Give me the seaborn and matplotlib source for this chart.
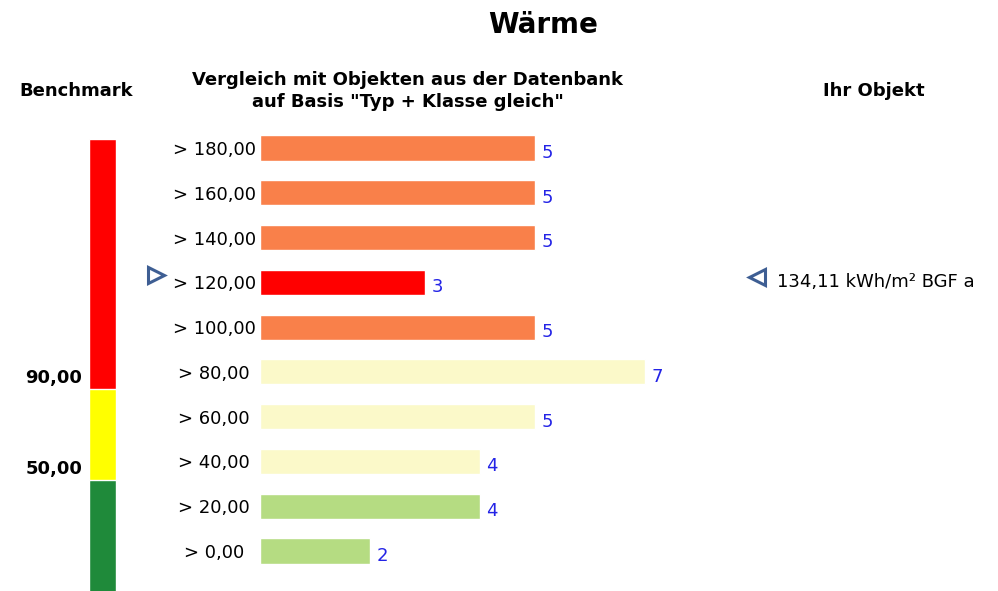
import matplotlib
matplotlib.use("Agg")
import matplotlib.pyplot as plt
import matplotlib.transforms as mtransforms
import seaborn as sns
import pandas as pd

# ---- data ----
categories = ["> 180,00", "> 160,00", "> 140,00", "> 120,00", "> 100,00",
              "> 80,00", "> 60,00", "> 40,00", "> 20,00", "> 0,00"]
counts = [5, 5, 5, 3, 5, 7, 5, 4, 4, 2]
bar_colors = ["#F9804A", "#F9804A", "#F9804A", "#FF0000", "#F9804A",
              "#FBF9C9", "#FBF9C9", "#FBF9C9", "#B5DC82", "#B5DC82"]
bench_thresholds = [200, 90, 50]          # tops of red, yellow, green segments
bench_colors = ["#FF0000", "#FFFF00", "#1F8A3A"]
bench_labels = ["90,00", "50,00"]
bench_label_values = [90, 50]
object_label = "134,11 kWh/m² BGF a"
object_row = 3

sns.set_style("white")
plt.rcParams["font.family"] = ["DejaVu Sans"]
plt.rcParams["text.color"] = "black"
plt.rcParams["ytick.color"] = "black"
plt.rcParams["ytick.labelcolor"] = "black"

fig = plt.figure(figsize=(9.98, 5.91), dpi=100)
W, H = 998, 591

# ---- main bar axes ----
row_h = 44.8
top_px = 148 - row_h / 2
bot_px = 551 + row_h / 2
ax = fig.add_axes([260 / W, 1 - bot_px / H, 440 / W, (bot_px - top_px) / H])
df = pd.DataFrame({"cat": categories, "count": counts})
sns.barplot(data=df, y="cat", x="count", hue="cat",
            palette=dict(zip(categories, bar_colors)), orient="h",
            width=0.56, saturation=1, legend=False, ax=ax)
ax.set_xlim(0, 8)
ax.set_ylim(len(categories) - 0.5, -0.5)
for s in ax.spines.values():
    s.set_visible(False)
ax.set_xticks([])
ax.set_xlabel("")
ax.set_ylabel("")
ax.tick_params(axis="y", length=0, pad=33, labelsize=13, labelcolor="black")
for lab in ax.get_yticklabels():
    lab.set_horizontalalignment("center")

for i, c in enumerate(counts):
    ax.annotate(str(c), xy=(c, i), xytext=(4.5, -3.5), textcoords="offset points",
                ha="left", va="center", fontsize=13, color="#2323E6")

# markers for the object value
tr = mtransforms.blended_transform_factory(ax.transAxes, ax.transData)
ax.plot([-0.236], [object_row - 0.16], marker=">", markersize=11,
        markerfacecolor="white", markeredgecolor="#3E5E93", markeredgewidth=2.2,
        transform=tr, clip_on=False, linestyle="none")
ax.plot([1.1295], [object_row - 0.13], marker="<", markersize=11,
        markerfacecolor="white", markeredgecolor="#3E5E93", markeredgewidth=2.2,
        transform=tr, clip_on=False, linestyle="none")
ax.text(1.175, object_row, object_label, transform=tr, ha="left", va="center",
        fontsize=13, color="black")

# ---- benchmark axes ----
bax = fig.add_axes([89 / W, 0, 27 / W, 1 - 139 / H])
for top, col in zip(bench_thresholds, bench_colors):
    sns.barplot(x=[0], y=[top], color=col, width=1, saturation=1, ax=bax)
bax.set_xlim(-0.5, 0.5)
bax.set_ylim(1.2, 200)
bax.axis("off")
btr = bax.get_yaxis_transform()
for lab, v in zip(bench_labels, bench_label_values):
    bax.annotate(lab, xy=(0, v), xycoords=btr, xytext=(-5, 8),
                 textcoords="offset points", ha="right", va="center",
                 fontsize=13, fontweight="bold", color="black")

# ---- titles ----
fig.text(543 / W, 1 - 25 / H, "Wärme", ha="center", va="center",
         fontsize=20, fontweight="bold", color="black")
fig.text(76 / W, 1 - 91 / H, "Benchmark", ha="center", va="center",
         fontsize=13, fontweight="bold", color="black")
fig.text(408 / W, 1 - 91 / H,
         "Vergleich mit Objekten aus der Datenbank\nauf Basis \"Typ + Klasse gleich\"",
         ha="center", va="center", fontsize=13, fontweight="bold",
         linespacing=1.3, color="black")
fig.text(874 / W, 1 - 91 / H, "Ihr Objekt", ha="center", va="center",
         fontsize=13, fontweight="bold", color="black")

fig.savefig("out.png", dpi=100)
